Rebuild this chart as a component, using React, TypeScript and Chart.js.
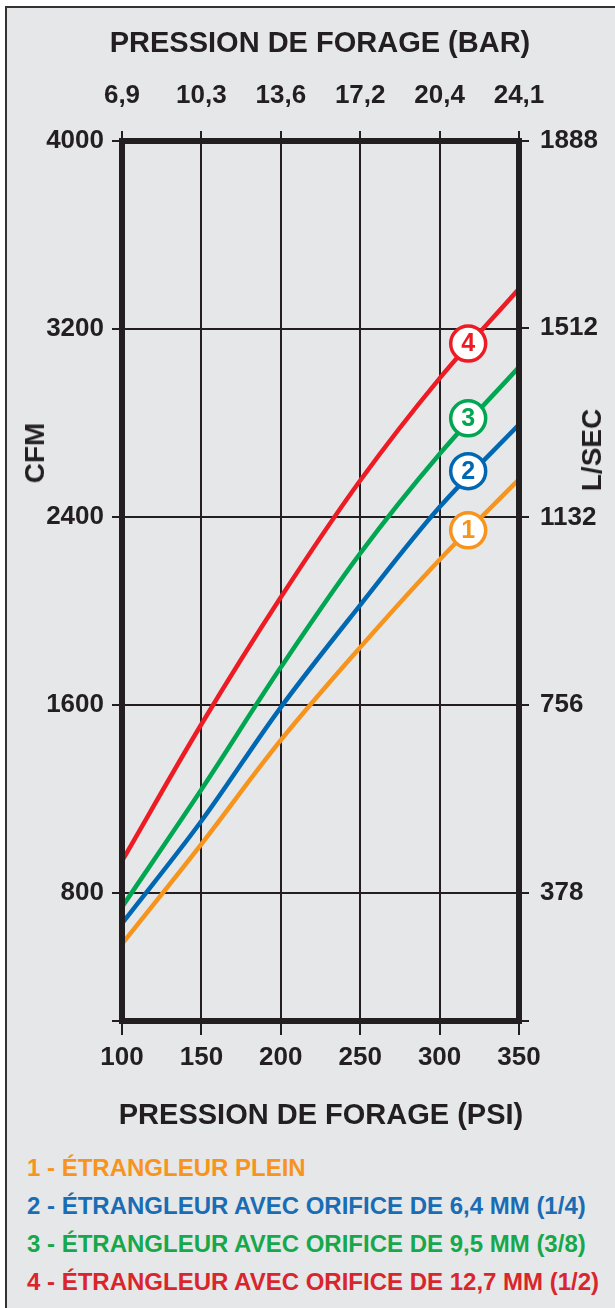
import React, { useEffect, useRef } from 'react';
import { Chart, registerables } from 'chart.js';

Chart.register(...registerables);

// ---- Data ----
const pressurePsi = [100, 150, 200, 250, 300, 350];
const barLabels = ['6,9', '10,3', '13,6', '17,2', '20,4', '24,1'];
const cfmTicks = [800, 1600, 2400, 3200, 4000];
const lsecTicks = [378, 756, 1132, 1512, 1888];
const cfmMin = 255;
const cfmMax = 4000;
const cfmToLsec = 0.472;

const cfmPlein = [583, 1008, 1450, 1845, 2218, 2560];
const cfmOrifice64 = [670, 1106, 1590, 2025, 2442, 2793];
const cfmOrifice95 = [740, 1240, 1760, 2245, 2668, 3038];
const cfmOrifice127 = [936, 1518, 2058, 2555, 2990, 3371];

const seriesNames = [
  '1 - ÉTRANGLEUR PLEIN',
  '2 - ÉTRANGLEUR AVEC ORIFICE DE 6,4 MM (1/4)',
  '3 - ÉTRANGLEUR AVEC ORIFICE DE 9,5 MM (3/8)',
  '4 - ÉTRANGLEUR AVEC ORIFICE DE 12,7 MM (1/2)',
];
const markerPsi = [318, 318, 318, 318];
const markerCfm = [2343, 2595, 2820, 3138];
const markerLabels = ['1', '2', '3', '4'];

const topTitle = 'PRESSION DE FORAGE (BAR)';
const bottomTitle = 'PRESSION DE FORAGE (PSI)';
const leftTitle = 'CFM';
const rightTitle = 'L/SEC';

// ---- Styles ----
const FONT = '"Liberation Sans", Arial, Helvetica, sans-serif';
const INK = '#231f20';
const BG = '#e6e7e8';
const seriesColors = ['#f7941d', '#0067b2', '#00a651', '#ed1c24'];
const legendColors = ['#f7941d', '#1a6cb4', '#16a84b', '#d9252c'];

export default function App() {
  const canvasRef = useRef<HTMLCanvasElement | null>(null);

  useEffect(() => {
    const canvas = canvasRef.current;
    if (!canvas) return;
    const series = [cfmPlein, cfmOrifice64, cfmOrifice95, cfmOrifice127];

    const overlay = {
      id: 'overlay',
      afterDatasetsDraw(chart: any) {
        const { ctx, chartArea: a } = chart;
        ctx.save();
        ctx.strokeStyle = INK;
        ctx.lineWidth = 6;
        ctx.strokeRect(a.left, a.top, a.right - a.left, a.bottom - a.top);
        const meta = chart.getDatasetMeta(0);
        ctx.font = `bold 25px ${FONT}`;
        ctx.textAlign = 'center';
        ctx.textBaseline = 'middle';
        meta.data.forEach((el: any, i: number) => {
          ctx.fillStyle = seriesColors[i];
          ctx.fillText(markerLabels[i], el.x, el.y + 1);
        });
        ctx.restore();
      },
    };

    const tickFont = { family: FONT, size: 26, weight: 'bold' as const };
    const psiTicks = (s: any) => {
      s.ticks = pressurePsi.map((v) => ({ value: v }));
    };

    const chart = new Chart(canvas, {
      type: 'line',
      data: {
        datasets: [
          {
            type: 'scatter',
            data: markerPsi.map((x, i) => ({ x, y: markerCfm[i] })),
            pointRadius: 17.5,
            pointHoverRadius: 17.5,
            pointBorderWidth: 3.5,
            pointBackgroundColor: '#ffffff',
            pointBorderColor: seriesColors,
            showLine: false,
            order: 0,
          } as any,
          ...series.map((vals, i) => ({
            label: seriesNames[i],
            data: pressurePsi.map((x, j) => ({ x, y: vals[j] })),
            borderColor: seriesColors[i],
            borderWidth: 4.5,
            pointRadius: 0,
            tension: 0.35,
            fill: false,
            order: 1,
          })),
        ],
      },
      options: {
        responsive: false,
        animation: false,
        layout: { padding: 0 },
        plugins: { legend: { display: false }, tooltip: { enabled: false } },
        events: [],
        scales: {
          x: {
            type: 'linear',
            position: 'bottom',
            min: 100,
            max: 350,
            afterBuildTicks: psiTicks,
            afterFit: (s: any) => {
              s.height = 119;
            },
            grid: { color: INK, lineWidth: 2, tickLength: 14 },
            border: { display: true, color: INK, width: 6 },
            ticks: {
              color: INK,
              font: tickFont,
              padding: 7,
              maxRotation: 0,
              autoSkip: false,
              callback: (v: any) => String(v),
            },
          },
          x2: {
            type: 'linear',
            position: 'top',
            min: 100,
            max: 350,
            afterBuildTicks: psiTicks,
            afterFit: (s: any) => {
              s.height = 141;
            },
            grid: { drawOnChartArea: false, color: INK, lineWidth: 2, tickLength: 10 },
            border: { display: true, color: INK, width: 6 },
            ticks: {
              color: INK,
              font: tickFont,
              padding: 20,
              maxRotation: 0,
              autoSkip: false,
              callback: (_v: any, i: number) => barLabels[i],
            },
          },
          y: {
            type: 'linear',
            position: 'left',
            min: cfmMin,
            max: cfmMax,
            afterBuildTicks: (s: any) => {
              s.ticks = [cfmMin, ...cfmTicks].map((v) => ({ value: v }));
            },
            afterFit: (s: any) => {
              s.width = 122;
            },
            grid: { color: INK, lineWidth: 2, tickLength: 10 },
            border: { display: true, color: INK, width: 6 },
            ticks: {
              color: INK,
              font: tickFont,
              padding: 8,
              autoSkip: false,
              callback: (v: any) => (cfmTicks.includes(v) ? String(v) : ''),
            },
          },
          y2: {
            type: 'linear',
            position: 'right',
            min: cfmMin * cfmToLsec,
            max: cfmMax * cfmToLsec,
            afterBuildTicks: (s: any) => {
              s.ticks = [cfmMin * cfmToLsec, ...lsecTicks].map((v) => ({ value: v }));
            },
            afterFit: (s: any) => {
              s.width = 96;
            },
            grid: { drawOnChartArea: false, color: INK, lineWidth: 2, tickLength: 10 },
            border: { display: true, color: INK, width: 6 },
            ticks: {
              color: INK,
              font: tickFont,
              padding: 11,
              autoSkip: false,
              callback: (v: any) => (lsecTicks.includes(v) ? String(v) : ''),
            },
          },
        } as any,
      },
      plugins: [overlay],
    });

    return () => {
      chart.destroy();
    };
  }, []);

  const textBox = (cx: number, cy: number, size: number, rotate: boolean): React.CSSProperties => ({
    position: 'absolute',
    left: cx,
    top: cy,
    transform: rotate ? 'translate(-50%, -50%) rotate(-90deg)' : 'translate(-50%, -50%)',
    fontFamily: FONT,
    fontWeight: 'bold',
    fontSize: size,
    lineHeight: `${size}px`,
    color: INK,
    whiteSpace: 'nowrap',
  });

  return (
    <div
      style={{
        position: 'absolute',
        left: 0,
        top: 0,
        width: 615,
        height: 1308,
        overflow: 'hidden',
        background: '#ffffff',
      }}
    >
      <div
        style={{
          position: 'absolute',
          left: 5,
          top: 6,
          width: 700,
          height: 1400,
          background: BG,
          border: '2px solid #333333',
        }}
      />
      <canvas
        ref={canvasRef}
        width={615}
        height={1140}
        style={{ position: 'absolute', left: 0, top: 0, width: 615, height: 1140, display: 'block' }}
      />
      <div style={textBox(320, 42, 29, false)}>{topTitle}</div>
      <div style={textBox(321, 1114, 29, false)}>{bottomTitle}</div>
      <div style={textBox(35, 453, 28, true)}>{leftTitle}</div>
      <div style={textBox(592, 450, 28, true)}>{rightTitle}</div>
      {seriesNames.map((name, i) => (
        <div
          key={name}
          style={{
            position: 'absolute',
            left: 27,
            top: 1168 + i * 38 - 12,
            fontFamily: FONT,
            fontWeight: 'bold',
            fontSize: 24,
            lineHeight: '24px',
            color: legendColors[i],
            whiteSpace: 'nowrap',
          }}
        >
          {name}
        </div>
      ))}
    </div>
  );
}
